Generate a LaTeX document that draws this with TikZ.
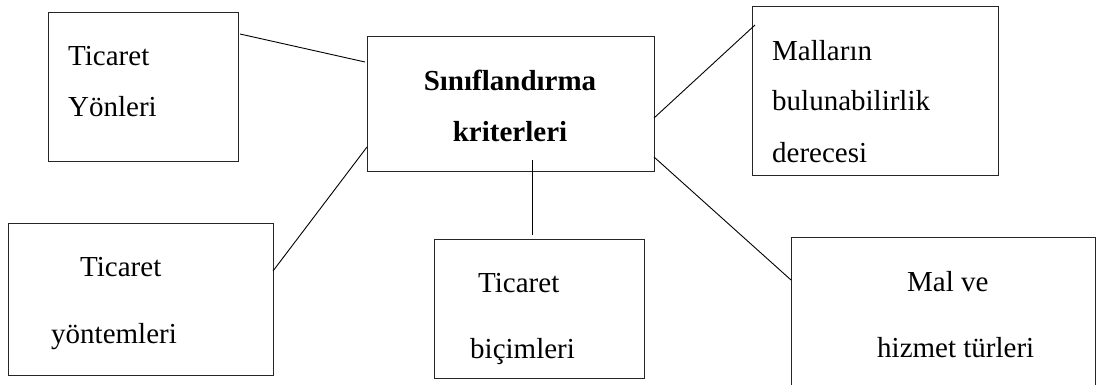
\documentclass[tikz,border=0pt]{standalone}
\usepackage{fontspec}
\setmainfont{Liberation Serif}
\begin{document}
\begin{tikzpicture}[x=1pt,y=-1pt,
  box/.style={draw=black!85,line width=1pt,rectangle,inner sep=0pt,outer sep=0pt},
  conn/.style={draw=black,line width=0.9pt},
  txt/.style={anchor=base west,inner sep=0pt,font=\fontsize{29}{29}\selectfont},
  btxt/.style={anchor=base,inner sep=0pt,font=\fontsize{29}{29}\selectfont\bfseries}]
\clip (0,0) rectangle (1097,385);
\fill[white] (0,0) rectangle (1097,385);
% boxes
\node[box,minimum width=190pt,minimum height=148pt] (yon) at (143,87) {};
\node[box,minimum width=287pt,minimum height=134pt] (cen) at (510.5,104) {};
\node[box,minimum width=246pt,minimum height=168pt] (mal) at (875,91) {};
\node[box,minimum width=265pt,minimum height=152pt] (yont) at (140.5,299) {};
\node[box,minimum width=210pt,minimum height=139pt] (bic) at (539,308.5) {};
\node[box,minimum width=304pt,minimum height=183pt] (malve) at (943,328.5) {};
% texts
\node[txt] (t1a) at (68,66) {Ticaret};
\node[txt] (t1b) at (68,117) {Yönleri};
\node[btxt] (t2a) at (510,91) {Sınıflandırma};
\node[btxt] (t2b) at (510,142) {kriterleri};
\node[txt] (t3a) at (772,61) {Malların};
\node[txt] (t3b) at (772,111) {bulunabilirlik};
\node[txt] (t3c) at (772,162) {derecesi};
\node[txt] (t4a) at (80,276) {Ticaret};
\node[txt] (t4b) at (51,343) {yöntemleri};
\node[txt] (t5a) at (478,292) {Ticaret};
\node[txt] (t5b) at (470,358) {biçimleri};
\node[txt] (t6a) at (907,291) {Mal ve};
\node[txt] (t6b) at (877,357) {hizmet türleri};
% connectors
\draw[conn] ([shift={(2,21)}]yon.north east) -- ([shift={(-2,25)}]cen.north west);
\draw[conn] ([shift={(0,48)}]yont.north east) -- ([shift={(0,-24)}]cen.south west);
\draw[conn] ([shift={(0,81)}]cen.north east) -- ([shift={(3,18)}]mal.north west);
\draw[conn] ([shift={(0,-14)}]cen.south east) -- ([shift={(0,43)}]malve.north west);
\draw[conn] ([shift={(21.5,-11)}]cen.south) -- ([shift={(-7,-4)}]bic.north);
\end{tikzpicture}
\end{document}
